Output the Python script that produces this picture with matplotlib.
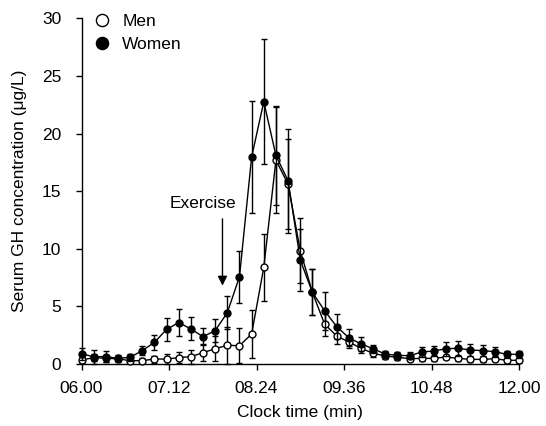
import matplotlib
matplotlib.use("Agg")
import matplotlib.pyplot as plt
import numpy as np

plt.rcParams['font.family'] = ['Liberation Sans', 'DejaVu Sans']

# Minutes since 06.00, sampled every 10 min
minutes = list(range(0, 361, 10))

men = [0.35, 0.55, 0.5, 0.45, 0.29, 0.29, 0.43, 0.43, 0.55, 0.64, 0.98, 1.33, 1.62, 1.59,
       2.6, 8.39, 17.7, 15.6, 9.84, 6.22, 3.47, 2.43, 1.91, 1.36, 0.93, 0.69, 0.58, 0.46,
       0.49, 0.49, 0.61, 0.49, 0.4, 0.4, 0.46, 0.32, 0.32]
men_err = [0.3, 0.3, 0.3, 0.2, 0.2, 0.2, 0.3, 0.4, 0.5, 0.6, 0.75, 1.1, 1.6, 1.5,
           2.1, 2.9, 4.6, 3.9, 2.8, 2.0, 1.0, 0.7, 0.5, 0.4, 0.3, 0.25, 0.2, 0.2,
           0.2, 0.2, 0.2, 0.2, 0.2, 0.2, 0.2, 0.2, 0.2]

women = [0.87, 0.64, 0.64, 0.49, 0.58, 1.16, 1.88, 3.0, 3.6, 3.04, 2.37, 2.9, 4.46, 7.58,
         17.97, 22.77, 18.1, 15.9, 9.03, 6.22, 4.63, 3.24, 2.28, 1.74, 1.33, 0.85, 0.75, 0.72,
         1.04, 1.13, 1.33, 1.36, 1.22, 1.16, 1.07, 0.84, 0.84]
women_err = [0.5, 0.6, 0.5, 0.3, 0.3, 0.4, 0.66, 1.0, 1.2, 1.0, 0.75, 1.0, 1.4, 2.26,
             4.9, 5.4, 4.3, 4.5, 2.7, 2.0, 1.65, 1.1, 0.75, 0.6, 0.35, 0.3, 0.3, 0.3,
             0.45, 0.43, 0.6, 0.66, 0.52, 0.5, 0.43, 0.3, 0.3]

xtick_pos = [0, 72, 144, 216, 288, 360]
xtick_labels = ["06.00", "07.12", "08.24", "09.36", "10.48", "12.00"]
ytick_pos = [0, 5, 10, 15, 20, 25, 30]

exercise_label = "Exercise"
exercise_time = 116
arrow_top, arrow_tip = 12.6, 6.8

fig = plt.figure(figsize=(5.46, 4.26), dpi=100)
ax = fig.add_axes([81.5/546, 62/426, (519-81.5)/546, (364-18.4)/426])

common = dict(color='black', lw=1.0, elinewidth=1.0, capsize=2.2, capthick=1.0,
              markersize=5, markeredgewidth=1.0, clip_on=False)
em = ax.errorbar(minutes, men, yerr=men_err, fmt='-o', markerfacecolor='white',
                 markeredgecolor='black', label='Men', zorder=3, **common)
ew = ax.errorbar(minutes, women, yerr=women_err, fmt='-o', markerfacecolor='black',
                 markeredgecolor='black', label='Women', zorder=4, **common)
for e in (em, ew):
    for c in e[1] + e[2]:
        c.set_clip_on(False)

ax.annotate('', xy=(exercise_time, arrow_tip), xytext=(exercise_time, arrow_top),
            arrowprops=dict(arrowstyle='-|>', color='black', lw=1.0,
                            mutation_scale=14, shrinkA=0, shrinkB=0))
ax.text(100, 13.9, exercise_label, ha='center', va='center', fontsize=12.5)

ax.set_xlim(0, 360)
ax.set_ylim(0, 30)
ax.set_xticks(xtick_pos)
ax.set_xticklabels(xtick_labels)
ax.set_yticks(ytick_pos)
ax.tick_params(direction='out', length=4.5, width=1.0, labelsize=12.5, colors='black')
ax.tick_params(axis='y', pad=10)
ax.tick_params(axis='x', pad=8)
for s in ('top', 'right'):
    ax.spines[s].set_visible(False)
for s in ('left', 'bottom'):
    ax.spines[s].set_linewidth(1.0)

ax.set_xlabel("Clock time (min)", fontsize=12.5, labelpad=6)
ax.set_ylabel("Serum GH concentration (μg/L)", fontsize=12.5, labelpad=11)

leg = ax.legend(handles=[em[0], ew[0]], labels=['Men', 'Women'], loc='upper left',
                bbox_to_anchor=(0.02, 1.048), frameon=False, fontsize=12.5,
                handlelength=0, handletextpad=1.15, markerscale=1.75,
                borderaxespad=0.3, labelspacing=0.45)
for h in leg.legend_handles:
    h.set_linestyle('none')

fig.savefig('out.png', dpi=100)
